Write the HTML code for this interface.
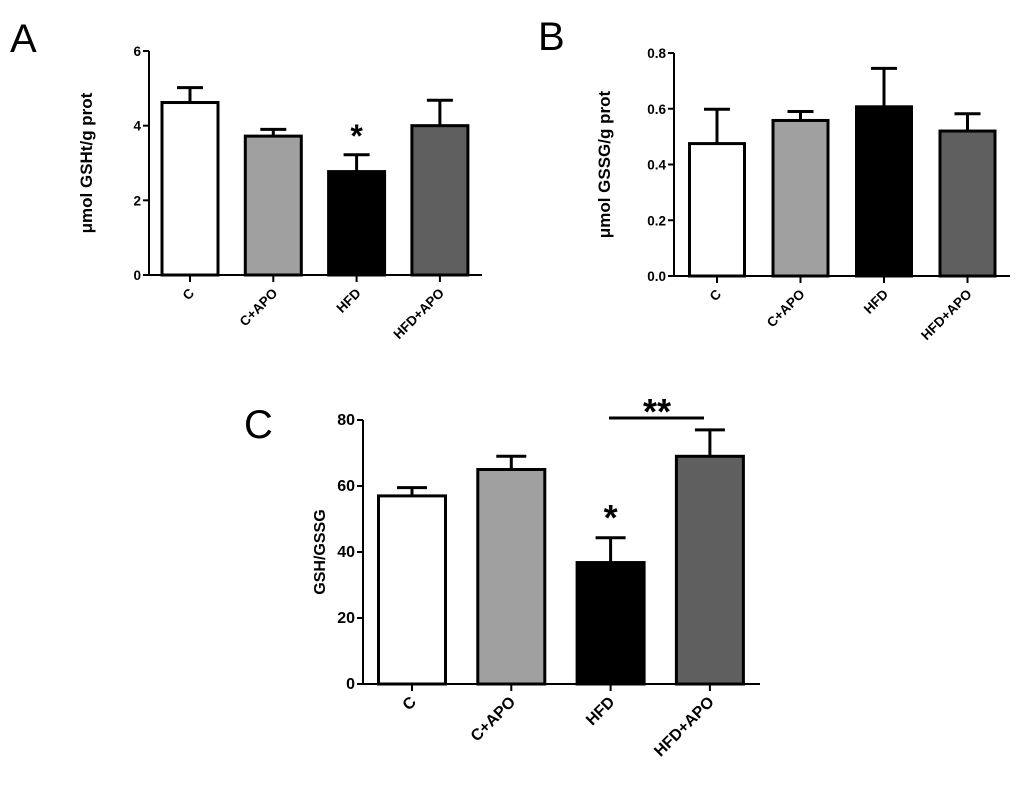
<!DOCTYPE html>
<html><head><meta charset="utf-8"><style>
body{margin:0;background:#fff}
svg{display:block;font-family:"Liberation Sans",Arial,sans-serif}
</style></head><body>
<svg id="fig" width="1024" height="793" viewBox="0 0 1024 793">
<text x="10" y="52" font-size="40">A</text>
<text x="538" y="50" font-size="40">B</text>
<text x="244" y="438" font-size="40">C</text>
</svg>
<script>
const categories=["C","C+APO","HFD","HFD+APO"];
const fills=["#ffffff","#a0a0a0","#000000","#5e5f5e"];
const valuesA=[4.62,3.72,2.77,4.0];
const errA=[0.40,0.18,0.45,0.68];
const ticksA=[0,2,4,6];
const valuesB=[0.475,0.558,0.607,0.52];
const errB=[0.123,0.032,0.138,0.062];
const ticksB=["0.0","0.2","0.4","0.6","0.8"];
const valuesC=[57,65,36.8,69];
const errC=[2.5,4,7.5,8];
const ticksC=[0,20,40,60,80];
const NS="http://www.w3.org/2000/svg";
const svg=document.getElementById('fig');
function mk(tag,attrs,parent){const e=document.createElementNS(NS,tag);for(const k in attrs)e.setAttribute(k,attrs[k]);(parent||svg).appendChild(e);return e;}
function panel(cfg){
  const g=mk('g',{});
  
  
  const y=v=>cfg.y0-(v-cfg.min)/(cfg.max-cfg.min)*(cfg.y0-cfg.y1);
  const xc=i=>cfg.first+i*cfg.step;
  cfg.values.forEach((v,i)=>{
    const cx=xc(i),top=y(v+cfg.err[i]);
    const el=mk('line',{x1:cx,x2:cx,y1:y(v),y2:top,stroke:'#000','stroke-width':3},g);
    
    
    const cap=mk('line',{x1:cx-cfg.cap,x2:cx+cfg.cap,y1:top,y2:top,stroke:'#000','stroke-width':3},g);
    
    
    const r=mk('rect',{x:cx-cfg.bw/2,y:y(v),width:cfg.bw,height:cfg.y0-y(v),fill:fills[i],stroke:'#000','stroke-width':3},g);
    
    
    const tk=mk('line',{x1:cx,x2:cx,y1:cfg.y0,y2:cfg.y0+7,stroke:'#000','stroke-width':2},g);
    
    
    const t=mk('text',{x:cx+5,y:cfg.y0+19,'font-size':cfg.fs,'font-weight':'bold','text-anchor':'end',transform:`rotate(-45 ${cx+5} ${cfg.y0+19})`},g);
    t.textContent=categories[i];
    
    
  });
  const ax=mk('line',{x1:cfg.ax,x2:cfg.ax,y1:cfg.y1,y2:cfg.y0,stroke:'#000','stroke-width':2},g);
  
  const xa=mk('line',{x1:cfg.ax-6,x2:cfg.xend,y1:cfg.y0,y2:cfg.y0,stroke:'#000','stroke-width':2},g);
  
  cfg.ticks.forEach(tv=>{
    const v=parseFloat(tv);
    const tl=mk('line',{x1:cfg.ax-6,x2:cfg.ax,y1:y(v),y2:y(v),stroke:'#000','stroke-width':2},g);
    
    const t=mk('text',{x:cfg.ax-8,y:y(v)+5,'font-size':cfg.fs,'font-weight':'bold','text-anchor':'end'},g);
    t.textContent=tv;
    
  });
  const ty=(cfg.y0+cfg.y1)/2;
  const tt=mk('text',{x:cfg.tx,y:ty,'font-size':cfg.tfs,'font-weight':'bold','text-anchor':'middle',transform:`rotate(-90 ${cfg.tx} ${ty})`},g);
  tt.textContent=cfg.title;
  
  return {y,xc,g};
}
const A=panel({name:'panel-a',values:valuesA,err:errA,ticks:ticksA.map(String),min:0,max:6,y0:275,y1:51,ax:149,xend:482,first:190,step:83.3,bw:56,cap:13,fs:13.5,tfs:17,tx:92,title:'μmol GSHt/g prot'});
const sa=mk('text',{x:A.xc(2),y:A.y(valuesA[2]+errA[2])-8,'font-size':32,'font-weight':'bold','text-anchor':'middle'},A.g);
sa.textContent='*';
panel({name:'panel-b',values:valuesB,err:errB,ticks:ticksB,min:0,max:0.8,y0:276,y1:53,ax:674,xend:1010,first:717,step:83.5,bw:55,cap:13,fs:13.5,tfs:17,tx:610,title:'μmol GSSG/g prot'});
const C=panel({name:'panel-c',values:valuesC,err:errC,ticks:ticksC.map(String),min:0,max:80,y0:684,y1:420,ax:363,xend:760,first:412,step:99.3,bw:67,cap:15,fs:16,tfs:16,tx:325,title:'GSH/GSSG'});
const sc=mk('text',{x:C.xc(2),y:C.y(valuesC[2]+errC[2])-8,'font-size':36,'font-weight':'bold','text-anchor':'middle'},C.g);
sc.textContent='*';
const bl=mk('line',{x1:609,x2:704,y1:418,y2:418,stroke:'#000','stroke-width':3},C.g);

const ss=mk('text',{x:657,y:424,'font-size':36,'font-weight':'bold','text-anchor':'middle'},C.g);
ss.textContent='**';
</script>
</body></html>
